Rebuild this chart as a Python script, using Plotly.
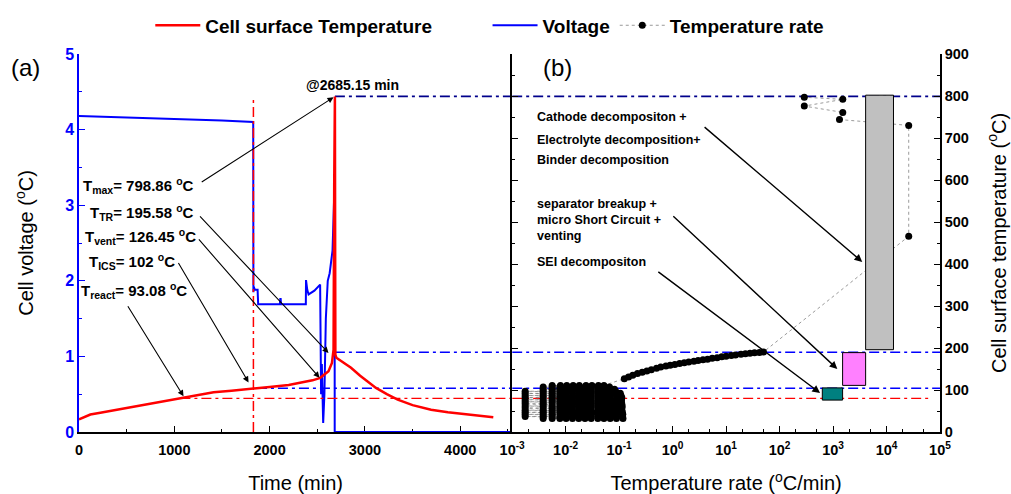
import plotly.graph_objects as go

# ---------------- data ----------------
# (a) cell surface temperature vs time
time_temp = [0, 119, 224, 400, 573, 800, 992, 1133, 1272, 1412, 1600, 1832, 2000, 2200, 2321,
             2450, 2531, 2618, 2654, 2671, 2678, 2685, 2688, 2690, 2700, 2780, 2854, 2950,
             3116, 3230, 3344, 3500, 3694, 3870, 4043, 4200, 4347]
temp_curve = [30, 41.6, 45.6, 53, 60, 68.5, 77.3, 83.7, 89, 94.7, 98.5, 102.7, 107, 112, 117,
              123, 129, 144.6, 164.6, 196, 600, 798.86, 400, 184, 177, 164, 153, 134,
              105, 90, 77, 64, 53, 47, 42, 38, 35]

# (a) voltage vs time
time_volt = [0, 300, 600, 900, 1200, 1500, 1828, 1830, 1834, 1845, 1874, 1880, 2108, 2112, 2116,
             2120, 2380, 2382, 2395, 2409, 2470, 2530, 2540, 2548, 2562, 2575, 2590, 2610,
             2630, 2660, 2678, 2682, 2683, 4545]
voltage = [4.18, 4.17, 4.16, 4.15, 4.14, 4.12, 4.10, 1.85, 1.92, 1.88, 1.88, 1.69, 1.69, 1.76, 1.76,
           1.69, 1.69, 2.01, 1.88, 1.82, 1.87, 1.95, 0.50, 0.90, 0.12, 0.50, 1.50, 2.00,
           2.10, 2.40, 3.20, 3.30, 0.00, 0.00]

# (b) temperature rate vs temperature
cluster_temps = [32, 37, 42, 47, 52, 57, 62, 67, 72, 77, 82, 87, 92, 97, 102, 107, 111]
cluster_rates = [
    [0.0038, 0.0056, 0.0078, 0.0102, 0.0134, 0.0176, 0.023, 0.030, 0.040, 0.052, 0.068, 0.089, 0.118],
    [0.00175, 0.0038, 0.0056, 0.0078, 0.0102, 0.0134, 0.0176, 0.023, 0.030, 0.040, 0.052, 0.068, 0.089, 0.116],
    [0.00175, 0.0038, 0.0056, 0.0079, 0.0103, 0.0135, 0.0177, 0.023, 0.030, 0.040, 0.052, 0.068, 0.089, 0.117],
    [0.00175, 0.0038, 0.0056, 0.0078, 0.0102, 0.0134, 0.0176, 0.023, 0.031, 0.040, 0.053, 0.069, 0.090, 0.115],
    [0.00175, 0.0038, 0.0056, 0.0078, 0.0102, 0.0134, 0.0176, 0.023, 0.030, 0.041, 0.052, 0.068, 0.089, 0.112],
    [0.00175, 0.0038, 0.0056, 0.0078, 0.0101, 0.0133, 0.0175, 0.023, 0.030, 0.040, 0.052, 0.068, 0.088, 0.113],
    [0.00175, 0.0038, 0.0056, 0.0078, 0.0102, 0.0134, 0.0176, 0.023, 0.030, 0.040, 0.052, 0.068, 0.089, 0.114],
    [0.00175, 0.0038, 0.0056, 0.0078, 0.0102, 0.0134, 0.0176, 0.023, 0.030, 0.040, 0.052, 0.067, 0.088, 0.112],
    [0.00175, 0.0038, 0.0056, 0.0078, 0.0102, 0.0134, 0.0176, 0.023, 0.030, 0.040, 0.052, 0.068, 0.089, 0.110],
    [0.00175, 0.0038, 0.0056, 0.0078, 0.0102, 0.0134, 0.0176, 0.023, 0.030, 0.040, 0.052, 0.068, 0.089, 0.111],
    [0.00175, 0.0038, 0.0056, 0.0078, 0.0102, 0.0134, 0.0176, 0.023, 0.030, 0.040, 0.052, 0.068, 0.090, 0.112],
    [0.00175, 0.0038, 0.0056, 0.0078, 0.0102, 0.0134, 0.0176, 0.023, 0.030, 0.040, 0.052, 0.068, 0.089, 0.108],
    [0.00175, 0.0038, 0.0056, 0.0078, 0.0102, 0.0134, 0.0176, 0.023, 0.030, 0.040, 0.052, 0.068, 0.089, 0.105],
    [0.00175, 0.0038, 0.0056, 0.0078, 0.0102, 0.0134, 0.0176, 0.023, 0.030, 0.040, 0.052, 0.068, 0.086],
    [0.0038, 0.0056, 0.0078, 0.0102, 0.0134, 0.0176, 0.023, 0.030, 0.040, 0.052, 0.068, 0.082],
    [0.0038, 0.0056, 0.0078, 0.0102, 0.0134, 0.0176, 0.023, 0.030, 0.040, 0.052, 0.066],
    [0.0056, 0.0080, 0.0105, 0.0138, 0.018, 0.024, 0.031, 0.041, 0.052],
]
ramp_rates = [0.125, 0.15, 0.18, 0.22, 0.27, 0.33, 0.40, 0.50, 0.60, 0.75, 0.90, 1.1, 1.35, 1.65,
              2.0, 2.5, 3.0, 3.7, 4.5, 5.5, 6.8, 8.3, 10, 12.5, 15, 19, 23, 28, 34, 42, 50]
ramp_temps = [127, 131, 135, 139, 142, 145, 148, 152, 154.5, 157, 159, 161, 163, 165,
              166.5, 168.5, 170, 172, 173.5, 175.5, 177, 179, 180.5, 182, 183.5, 185, 186.5,
              187.5, 188.5, 189.5, 190.5]
high_rates = [26000, 26000, 1320, 1520, 290, 1520, 290]
high_temps = [466, 730, 744, 761, 776, 792, 797]

# reaction-stage boxes in (b)
box_rate_lo = [630, 1510, 4070]
box_rate_hi = [1510, 4070, 13500]
box_temp_lo = [76, 111, 196]
box_temp_hi = [105, 189, 802]
box_colors = ["#008080", "#FF80FF", "#C0C0C0"]

# characteristic temperature levels (dash-dot guide lines)
ref_temps = [80, 104, 190, 799]
ref_start_time = [1064, 1867, 2685, 2685]
ref_end_rate = [65000, 100000, 100000, 100000]
ref_colors = ["#FF0000", "#0000FF", "#0000FF", "#00008B"]
ref_widths = [1.4, 1.6, 1.6, 1.6]
vent_time = 1830

x2_tickvals = [1e-3, 1e-2, 1e-1, 1e0, 1e1, 1e2, 1e3, 1e4, 1e5]
x2_ticktext = ["10<sup>-3</sup>", "10<sup>-2</sup>", "10<sup>-1</sup>", "10<sup>0</sup>",
               "10<sup>1</sup>", "10<sup>2</sup>", "10<sup>3</sup>", "10<sup>4</sup>", "10<sup>5</sup>"]

FONT = "Liberation Sans, Arial, sans-serif"
DASHDOT = "10px,4px,3px,4px"

fig = go.Figure()

# guide lines
for T, t0, r1, c, w in zip(ref_temps, ref_start_time, ref_end_rate, ref_colors, ref_widths):
    fig.add_trace(go.Scatter(x=[t0, 4545], y=[T, T], xaxis="x", yaxis="y2", mode="lines",
                             line=dict(color=c, width=w, dash=DASHDOT), showlegend=False, hoverinfo="skip"))
    fig.add_trace(go.Scatter(x=[1e-3, r1], y=[T, T], xaxis="x2", yaxis="y2", mode="lines",
                             line=dict(color=c, width=w, dash=DASHDOT), showlegend=False, hoverinfo="skip"))
fig.add_trace(go.Scatter(x=[vent_time, vent_time], y=[0, 800], xaxis="x", yaxis="y2", mode="lines",
                         line=dict(color="#FF0000", width=1.5, dash=DASHDOT), showlegend=False, hoverinfo="skip"))

# main curves
fig.add_trace(go.Scatter(x=time_volt, y=voltage, xaxis="x", yaxis="y", mode="lines", name="Voltage",
                         line=dict(color="#0000FF", width=2), legend="legend2"))
fig.add_trace(go.Scatter(x=time_temp, y=temp_curve, xaxis="x", yaxis="y2", mode="lines",
                         name="Cell surface Temperature", line=dict(color="#FF0000", width=2.5),
                         legend="legend"))

rate_x, rate_y = [], []
for T, row in zip(cluster_temps, cluster_rates):
    rate_x += row
    rate_y += [T] * len(row)
rate_x += ramp_rates + high_rates
rate_y += ramp_temps + high_temps
fig.add_trace(go.Scatter(x=rate_x, y=rate_y, xaxis="x2", yaxis="y2", mode="lines+markers",
                         name="Temperature rate",
                         line=dict(color="#808080", width=0.8, dash="dot"),
                         marker=dict(color="black", size=7), legend="legend2"))

shapes = []
for r0, r1, t0, t1, c in zip(box_rate_lo, box_rate_hi, box_temp_lo, box_temp_hi, box_colors):
    shapes.append(dict(type="rect", xref="x2", yref="y2", x0=r0, x1=r1, y0=t0, y1=t1,
                       fillcolor=c, line=dict(color="black", width=1), layer="above"))

annotations = []
bold = dict(family=FONT, size=15, color="black", weight="bold")
left_labels = [
    ("T<sub>max</sub>= 798.86 <sup>o</sup>C", 25, 588),
    ("T<sub>TR</sub>= 195.58 <sup>o</sup>C", 98, 522),
    ("T<sub>vent</sub>= 126.45 <sup>o</sup>C", 46, 466),
    ("T<sub>ICS</sub>= 102 <sup>o</sup>C", 87, 406),
    ("T<sub>react</sub>= 93.08 <sup>o</sup>C", 0, 338),
]
for txt, t, T in left_labels:
    annotations.append(dict(text=txt, x=t, y=T, xref="x", yref="y2", xanchor="left", yanchor="middle",
                            showarrow=False, font=bold))
left_arrows = [(1272, 593, 2671, 797), (1255, 517, 2618, 188), (1244, 462, 2524, 129),
               (1034, 406, 1779, 118), (503, 303, 1097, 85)]
for t0, T0, t1, T1 in left_arrows:
    annotations.append(dict(text="", x=t1, y=T1, ax=t0, ay=T0, xref="x", yref="y2", axref="x", ayref="y2",
                            showarrow=True, arrowhead=2, arrowsize=1.1, arrowwidth=1.1, arrowcolor="black"))
annotations.append(dict(text="@2685.15 min", x=2867, y=826, xref="x", yref="y2", showarrow=False,
                        xanchor="center", yanchor="middle",
                        font=dict(family=FONT, size=14, color="black", weight="bold")))

small_bold = dict(family=FONT, size=12.5, color="black", weight="bold")
right_labels = [("Cathode decompositon +", 750), ("Electrolyte decomposition+", 696),
                ("Binder decomposition", 648), ("separator breakup +", 543),
                ("micro Short Circuit +", 505), ("venting", 467), ("SEI decompositon", 405)]
for txt, T in right_labels:
    annotations.append(dict(text=txt, x=-2.57, y=T, xref="x2", yref="y2", xanchor="left", yanchor="middle",
                            showarrow=False, font=small_bold))
right_arrows = [(0.570, 729, 3.546, 405), (-0.015, 517, 3.08, 150), (-0.295, 384, 2.757, 93)]
for l0, T0, l1, T1 in right_arrows:
    annotations.append(dict(text="", x=l1, y=T1, ax=l0, ay=T0, xref="x2", yref="y2", axref="x2", ayref="y2",
                            showarrow=True, arrowhead=2, arrowsize=1.1, arrowwidth=1.4, arrowcolor="black"))

annotations.append(dict(text="(a)", x=-0.0623, y=0.963, xref="paper", yref="paper", showarrow=False,
                        xanchor="center", yanchor="middle",
                        font=dict(family=FONT, size=24, color="black")))
annotations.append(dict(text="(b)", x=0.5553, y=0.963, xref="paper", yref="paper", showarrow=False,
                        xanchor="center", yanchor="middle",
                        font=dict(family=FONT, size=24, color="black")))

tickfont = dict(family=FONT, size=14.5, color="black", weight="bold")
titlefont = dict(family=FONT, size=20, color="black")
split = 0.5031
legend_font = dict(family=FONT, size=19, color="black", weight="bold")

fig.update_layout(
    width=1011, height=494, autosize=False,
    margin=dict(l=78.7, r=71, t=54, b=61.5),
    paper_bgcolor="white", plot_bgcolor="rgba(0,0,0,0)",
    font=dict(family=FONT),
    shapes=shapes, annotations=annotations,
    xaxis=dict(domain=[0, split], range=[0, 4545], anchor="y", showline=True, linecolor="black",
               linewidth=1.5, ticks="inside", ticklen=6, tickwidth=1.2, tickcolor="black",
               tick0=0, dtick=1000, minor=dict(ticks="inside", ticklen=3, dtick=500, tickcolor="black"),
               tickfont=tickfont, showgrid=False, zeroline=False, ticklabelstandoff=4, automargin=False,
               layer="below traces",
               title=dict(text="Time (min)", font=titlefont, standoff=20)),
    yaxis=dict(range=[0, 5], anchor="x", showline=True, linecolor="#0000FF", linewidth=1.5,
               ticks="inside", ticklen=6, tickwidth=1.2, tickcolor="#0000FF", dtick=1,
               minor=dict(ticks="inside", ticklen=3, dtick=0.5, tickcolor="#0000FF"),
               tickfont=dict(family=FONT, size=16, color="#0000FF", weight="bold"),
               showgrid=False, zeroline=False, automargin=False,
               title=dict(text="Cell voltage (<sup>o</sup>C)", font=titlefont, standoff=26)),
    xaxis2=dict(domain=[split, 1], type="log", range=[-3, 5], anchor="y2", showline=True,
                linecolor="black", linewidth=1.5, ticks="inside", ticklen=6, tickwidth=1.2,
                tickcolor="black", tickmode="array", tickvals=x2_tickvals, ticktext=x2_ticktext,
                minor=dict(ticks="inside", ticklen=3, tickcolor="black"),
                tickfont=tickfont, showgrid=False, zeroline=False, ticklabelstandoff=4, automargin=False,
                title=dict(text="Temperature rate (<sup>o</sup>C/min)", font=titlefont, standoff=19)),
    yaxis2=dict(range=[0, 900], anchor="x2", side="right", showline=True, linecolor="black",
                linewidth=1.5, mirror="ticks", ticks="inside", ticklen=6, tickwidth=1.2,
                tickcolor="black", dtick=100,
                minor=dict(ticks="inside", ticklen=3, dtick=50, tickcolor="black"),
                tickfont=tickfont, showgrid=False, zeroline=False, automargin=False,
                title=dict(text="Cell surface temperature (<sup>o</sup>C)", font=titlefont, standoff=24)),
    legend=dict(x=0.0828, y=0.987, xref="paper", yref="container", xanchor="left", yanchor="top",
                orientation="h", font=legend_font, bgcolor="rgba(0,0,0,0)", itemwidth=45),
    legend2=dict(x=0.4745, y=0.987, xref="paper", yref="container", xanchor="left", yanchor="top",
                 orientation="h", font=legend_font, bgcolor="rgba(0,0,0,0)", itemwidth=45),
    showlegend=True,
)

fig.write_html("out.html")
